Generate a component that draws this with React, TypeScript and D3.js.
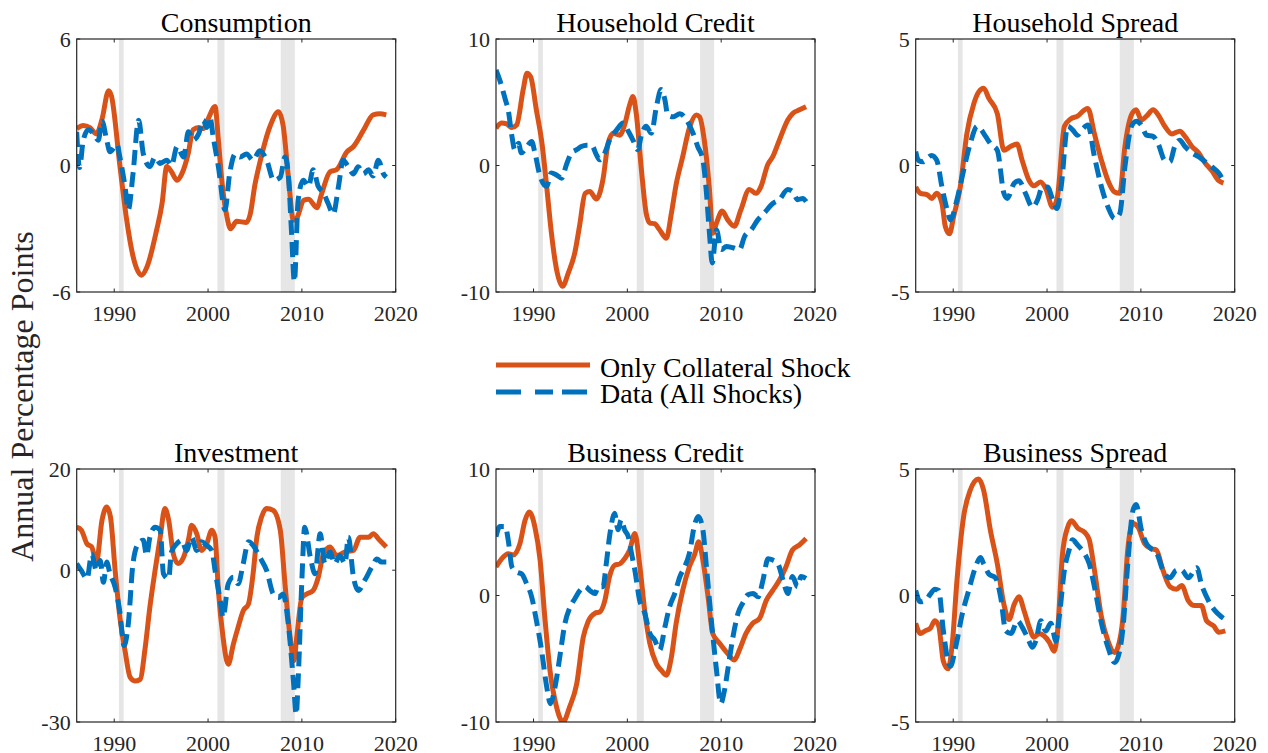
import React from 'react';
import * as d3 from 'd3';

type Pt = [number, number];

const panelTitles = ['Consumption', 'Household Credit', 'Household Spread', 'Investment', 'Business Credit', 'Business Spread'];
const yDomains: [number, number][] = [[-6, 6], [-10, 10], [-5, 5], [-30, 20], [-10, 10], [-5, 5]];
const xDomain: [number, number] = [1986, 2020];
const xTickYears = [1990, 2000, 2010, 2020];
const recessions: [number, number][] = [[1990.5, 1991.0], [2001.0, 2001.75], [2007.75, 2009.25]];
const legendLabels = ['Only Collateral Shock', 'Data (All Shocks)'];
const yAxisLabel = 'Annual Percentage Points';

// [year, value]
const consumptionCollateral: Pt[] = [
  [1986.0, 1.75], [1986.7, 1.9], [1987.4, 1.8], [1988.1, 1.5], [1988.7, 2.2], [1989.4, 3.55], [1989.7, 3.3],
  [1990.6, 0.0], [1991.3, -2.5], [1992.0, -4.3], [1992.9, -5.2], [1993.5, -4.8], [1994.5, -3.1], [1995.1, -1.8],
  [1995.6, -0.05], [1996.1, -0.3], [1996.7, -0.7], [1997.2, -0.4], [1997.9, 0.6], [1998.4, 1.7], [1999.0, 1.8],
  [1999.5, 1.75], [2000.0, 2.2], [2000.75, 2.8], [2001.1, 1.2], [2001.5, -0.85], [2002.0, -2.4], [2002.4, -3.0],
  [2003.05, -2.65], [2004.1, -2.7], [2004.5, -2.3], [2005.0, -0.9], [2005.5, 0.1], [2006.6, 1.85], [2007.5, 2.55],
  [2008.0, 1.9], [2008.55, -0.5], [2009.1, -2.6], [2009.45, -2.5], [2010.2, -1.65], [2010.7, -1.6], [2011.6, -2.0],
  [2012.1, -1.35], [2013.0, -0.3], [2013.7, -0.2], [2014.8, 0.65], [2015.5, 0.9], [2016.6, 1.7], [2017.6, 2.4],
  [2018.3, 2.45], [2019.0, 2.4],
];
const consumptionData: Pt[] = [
  [1986.0, 1.6], [1986.3, -0.1], [1986.7, 1.2], [1987.25, 1.7], [1987.8, 1.5], [1988.3, 1.2], [1988.7, 2.1],
  [1989.2, 1.2], [1989.55, 0.65], [1990.3, 1.0], [1990.6, 0.4], [1991.15, -1.0], [1991.5, -2.1], [1992.0, -0.4],
  [1992.6, 2.15], [1993.1, 0.55], [1993.8, -0.05], [1994.35, 0.4], [1994.9, 0.1], [1995.6, 0.25], [1996.1, 0.0],
  [1996.7, 0.9], [1997.4, 0.4], [1997.9, 1.6], [1998.4, 1.2], [1999.0, 1.5], [1999.5, 2.15], [1999.85, 1.8],
  [2000.2, 2.3], [2000.55, 1.35], [2001.1, -0.05], [2001.8, -2.1], [2002.3, -0.4], [2002.9, 0.55], [2003.4, 0.4],
  [2004.1, 0.55], [2004.8, 0.25], [2005.5, 0.7], [2006.25, 0.25], [2007.0, -0.7], [2007.7, -0.55], [2008.2, 0.4],
  [2008.55, -0.4], [2008.9, -3.2], [2009.2, -5.5], [2009.6, -1.65], [2010.15, -0.7], [2010.7, -1.0], [2011.2, -0.2],
  [2011.75, -1.0], [2012.3, -1.3], [2012.8, -1.8], [2013.35, -2.3], [2013.9, -1.0], [2014.4, 0.25], [2014.95, -0.06],
  [2015.5, -0.4], [2016.0, -0.06], [2016.55, -0.4], [2017.1, -0.2], [2017.6, -0.5], [2018.15, 0.25], [2018.7, -0.4],
  [2019.0, -0.55],
];

const hhCreditCollateral: Pt[] = [
  [1986.0, 2.95], [1986.6, 3.35], [1987.1, 3.3], [1987.7, 3.0], [1988.2, 3.2], [1988.9, 6.0], [1989.3, 7.3],
  [1989.7, 7.0], [1990.3, 4.4], [1990.9, 1.75], [1991.4, -1.65], [1991.9, -5.3], [1992.45, -8.2], [1993.1, -9.55],
  [1993.7, -8.5], [1994.4, -6.9], [1994.9, -4.8], [1995.5, -2.2], [1996.0, -2.05], [1996.7, -2.65], [1997.4, -1.1],
  [1997.95, 1.75], [1998.5, 2.55], [1999.2, 2.4], [1999.7, 3.2], [2000.25, 4.8], [2000.6, 5.45], [2000.95, 4.1],
  [2001.5, -0.35], [2002.0, -3.75], [2002.4, -4.55], [2002.9, -4.6], [2003.45, -5.1], [2004.15, -5.75], [2004.7, -3.75],
  [2005.2, -1.5], [2005.9, 0.7], [2006.6, 2.95], [2007.35, 4.0], [2007.7, 3.85], [2008.2, 2.0], [2008.75, -1.9],
  [2009.1, -5.35], [2009.5, -4.55], [2010.1, -3.6], [2010.7, -4.3], [2011.4, -4.8], [2012.1, -3.5], [2013.0, -1.9],
  [2013.7, -2.2], [2014.25, -1.65], [2014.95, 0.05], [2015.5, 0.7], [2016.2, 2.0], [2017.1, 3.6], [2017.6, 4.1],
  [2018.35, 4.4], [2019.05, 4.65],
];
const hhCreditData: Pt[] = [
  [1986.0, 7.55], [1986.4, 6.75], [1987.0, 5.2], [1987.3, 4.4], [1987.7, 2.3], [1988.0, 1.25], [1988.4, 1.75],
  [1988.7, 1.0], [1989.3, 1.5], [1989.8, 1.9], [1990.15, 1.0], [1990.7, -0.85], [1991.4, -1.65], [1991.9, -0.6],
  [1992.45, -0.75], [1993.0, -1.0], [1993.5, 0.05], [1994.05, 1.0], [1994.6, 1.25], [1995.1, 1.5], [1995.65, 1.6],
  [1996.2, 1.6], [1996.7, 0.85], [1997.05, 0.45], [1997.6, 1.0], [1998.1, 2.0], [1998.85, 2.8], [1999.55, 3.35],
  [2000.1, 2.7], [2000.6, 2.0], [2001.1, 1.25], [2001.5, 2.4], [2002.0, 3.1], [2002.55, 2.55], [2003.1, 4.65],
  [2003.6, 6.0], [2004.0, 5.2], [2004.3, 4.0], [2004.9, 3.85], [2005.6, 4.1], [2006.3, 3.6], [2007.0, 2.55],
  [2007.5, 1.5], [2008.05, 0.45], [2008.4, -1.9], [2008.75, -5.35], [2009.05, -7.7], [2009.5, -5.1], [2010.0, -6.65],
  [2010.55, -6.4], [2011.25, -6.5], [2011.95, -6.65], [2012.5, -5.6], [2013.2, -5.1], [2013.9, -4.3], [2014.6, -3.75],
  [2015.5, -3.0], [2016.2, -2.7], [2017.1, -1.9], [2017.6, -2.05], [2018.15, -2.7], [2018.7, -2.6], [2019.05, -2.85],
];

const hhSpreadCollateral: Pt[] = [
  [1986.0, -0.85], [1986.5, -1.1], [1987.2, -1.15], [1987.7, -1.3], [1988.25, -1.1], [1988.8, -1.5], [1989.15, -2.4],
  [1989.6, -2.7], [1990.05, -2.0], [1990.75, -0.85], [1991.45, 1.25], [1992.2, 2.45], [1992.7, 2.9], [1993.25, 3.05],
  [1993.8, 2.65], [1994.7, 2.05], [1995.4, 0.6], [1996.1, 0.75], [1996.8, 0.85], [1997.35, 0.2], [1998.1, -0.6],
  [1998.6, -0.8], [1999.3, -0.65], [1999.85, -0.9], [2000.6, -1.65], [2001.1, -1.25], [2001.85, 1.55], [2002.55, 1.85],
  [2003.25, 1.95], [2004.0, 2.2], [2004.35, 2.25], [2005.05, 1.25], [2005.8, 0.2], [2006.5, -0.6], [2007.2, -1.05],
  [2007.75, -1.1], [2008.3, 0.75], [2009.0, 2.0], [2009.5, 2.2], [2010.05, 1.8], [2010.6, 1.95], [2011.3, 2.2],
  [2011.85, 2.0], [2012.55, 1.55], [2013.3, 1.25], [2014.15, 1.35], [2014.7, 1.15], [2015.45, 0.75], [2016.15, 0.5],
  [2016.85, 0.1], [2017.55, -0.2], [2018.3, -0.6], [2018.8, -0.7],
];
const hhSpreadData: Pt[] = [
  [1986.0, 0.55], [1986.3, 0.2], [1986.8, 0.15], [1987.25, 0.3], [1987.7, 0.4], [1988.25, 0.2], [1988.8, -0.85],
  [1989.35, -1.75], [1989.7, -2.15], [1990.4, -1.35], [1991.1, -0.2], [1991.8, 0.85], [1992.55, 1.55], [1992.9, 1.45],
  [1993.45, 1.15], [1994.0, 0.85], [1994.7, 0.6], [1995.4, -1.1], [1995.75, -1.3], [1996.5, -0.7], [1997.0, -0.6],
  [1997.7, -1.1], [1998.45, -1.65], [1999.0, -1.35], [1999.5, -0.85], [2000.05, -0.85], [2000.6, -1.35], [2001.05, -1.7],
  [2001.5, -0.85], [2002.2, 1.55], [2002.75, 1.4], [2003.25, 1.2], [2003.8, 1.45], [2004.35, 1.6], [2005.05, 0.35],
  [2005.8, -0.85], [2006.5, -1.65], [2007.2, -2.1], [2007.75, -1.9], [2008.3, -0.05], [2009.0, 1.55], [2009.5, 1.75],
  [2010.05, 1.6], [2010.6, 1.2], [2011.3, 1.15], [2011.85, 0.85], [2012.55, 0.2], [2013.1, 0.15], [2013.6, 0.75],
  [2014.15, 1.0], [2014.7, 0.75], [2015.45, 0.5], [2016.15, 0.35], [2016.85, 0.15], [2017.55, -0.05], [2018.3, -0.3],
  [2018.8, -0.6],
];

const investmentCollateral: Pt[] = [
  [1986.0, 8.5], [1986.5, 7.9], [1987.1, 5.2], [1987.6, 4.6], [1988.1, 1.6], [1988.7, 9.9], [1989.2, 12.5],
  [1989.6, 10.5], [1990.1, -0.1], [1990.6, -9.3], [1991.15, -15.9], [1991.7, -21.2], [1992.2, -21.9], [1992.75, -21.6],
  [1993.3, -15.3], [1993.8, -7.3], [1994.35, -0.1], [1994.9, 6.5], [1995.4, 12.2], [1995.8, 9.9], [1996.3, 3.2],
  [1996.8, 1.3], [1997.4, 2.6], [1997.9, 5.9], [1998.25, 8.9], [1998.8, 7.2], [1999.3, 3.9], [1999.85, 5.2],
  [2000.4, 7.9], [2000.75, 6.5], [2001.1, -4.0], [2001.6, -13.3], [2002.15, -18.6], [2002.7, -14.6], [2003.2, -11.3],
  [2003.75, -8.0], [2004.3, -6.7], [2004.8, -0.7], [2005.2, 6.5], [2005.7, 10.5], [2006.25, 12.2], [2006.95, 11.8],
  [2007.7, 7.9], [2008.2, -2.7], [2008.75, -13.3], [2009.15, -17.9], [2009.45, -13.3], [2010.0, -5.4], [2010.5, -4.7],
  [2011.2, -4.0], [2011.75, -1.4], [2012.3, 3.2], [2013.0, 4.6], [2013.7, 2.9], [2014.6, 3.6], [2015.5, 3.9],
  [2016.2, 6.5], [2017.1, 6.5], [2017.6, 7.2], [2018.3, 5.9], [2019.0, 4.6],
];
const investmentData: Pt[] = [
  [1986.0, 1.3], [1986.5, -0.1], [1987.1, -1.7], [1987.6, 3.2], [1988.1, -0.1], [1988.5, 1.9], [1988.85, -2.4],
  [1989.2, 1.6], [1989.55, -0.7], [1990.1, -3.4], [1990.6, -8.3], [1991.05, -14.9], [1991.5, -10.6], [1992.0, 1.3],
  [1992.55, 5.2], [1993.1, 5.9], [1993.45, 2.9], [1993.8, 6.5], [1994.35, 8.5], [1994.9, 7.9], [1995.25, -0.7],
  [1995.8, -1.7], [1996.1, 3.6], [1996.65, 5.2], [1997.2, 5.9], [1997.7, 3.9], [1998.25, 6.5], [1998.8, 3.9],
  [1999.3, 5.6], [1999.85, 4.9], [2000.4, 3.9], [2000.75, -0.1], [2001.3, -6.0], [2001.6, -9.3], [2002.15, -2.7],
  [2002.7, -1.4], [2003.2, -2.7], [2003.75, 1.3], [2004.3, 5.6], [2004.8, 4.9], [2005.5, 2.6], [2006.25, -0.1],
  [2006.95, -4.7], [2007.5, -5.4], [2008.0, -4.7], [2008.55, -10.6], [2009.1, -21.9], [2009.4, -28.5], [2009.6, -21.9],
  [2010.0, -2.0], [2010.3, 8.5], [2010.9, 2.6], [2011.4, -0.7], [2011.95, 7.2], [2012.45, 1.3], [2013.0, 3.6],
  [2013.5, 1.3], [2014.05, 2.9], [2014.6, 1.3], [2014.95, 6.5], [2015.5, -1.4], [2016.0, -4.0], [2016.7, -2.0],
  [2017.45, 0.6], [2018.0, 2.2], [2018.5, 1.6], [2019.0, 1.6],
];

const bizCreditCollateral: Pt[] = [
  [1986.0, 2.25], [1986.6, 2.9], [1987.3, 3.3], [1987.85, 3.2], [1988.55, 4.1], [1989.1, 5.95], [1989.55, 6.6],
  [1990.15, 5.4], [1990.7, 2.8], [1991.2, -1.7], [1991.75, -5.9], [1992.45, -8.8], [1993.15, -10.0], [1993.85, -8.8],
  [1994.6, -7.0], [1995.3, -3.3], [1995.8, -2.1], [1996.55, -1.4], [1997.05, -1.3], [1997.6, -0.4], [1998.1, 1.5],
  [1998.65, 2.4], [1999.2, 2.5], [1999.7, 2.9], [2000.25, 3.6], [2000.8, 4.9], [2001.3, 2.5], [2001.85, -1.2],
  [2002.4, -3.8], [2003.1, -5.4], [2003.6, -5.9], [2004.15, -6.3], [2004.7, -4.85], [2005.2, -2.2], [2005.9, 0.4],
  [2006.6, 2.25], [2007.2, 3.3], [2007.6, 4.25], [2008.05, 2.8], [2008.6, -0.1], [2009.1, -3.0], [2009.85, -3.8],
  [2010.7, -4.6], [2011.4, -5.1], [2011.95, -4.3], [2012.65, -3.0], [2013.35, -2.2], [2014.1, -1.8], [2014.8, -0.4],
  [2015.5, 0.4], [2016.2, 1.2], [2016.9, 2.25], [2017.6, 3.6], [2018.35, 4.0], [2019.05, 4.5],
];
const bizCreditData: Pt[] = [
  [1986.0, 4.65], [1986.4, 5.45], [1987.0, 5.45], [1987.3, 4.4], [1987.7, 2.25], [1988.2, 1.85], [1988.75, 1.7],
  [1989.25, 0.95], [1989.8, -0.1], [1990.3, -1.95], [1990.85, -4.3], [1991.4, -7.2], [1991.8, -8.55], [1992.3, -7.2],
  [1992.8, -4.85], [1993.35, -2.2], [1993.9, -0.9], [1994.4, -0.25], [1994.95, 0.4], [1995.5, 0.7], [1996.0, 0.4],
  [1996.55, 0.15], [1996.9, 0.7], [1997.4, 0.7], [1997.75, 2.5], [1998.1, 4.65], [1998.65, 6.5], [1999.0, 5.2],
  [1999.35, 6.0], [1999.7, 5.2], [2000.1, 4.65], [2000.45, 3.3], [2000.8, 2.0], [2001.3, -0.35], [2001.85, -1.4],
  [2002.4, -3.0], [2002.9, -3.5], [2003.45, -4.3], [2004.0, -2.5], [2004.5, -0.9], [2005.05, 0.15], [2005.6, 1.5],
  [2006.1, 2.25], [2006.6, 3.3], [2007.2, 5.7], [2007.55, 6.25], [2008.05, 5.2], [2008.4, 2.5], [2008.95, -1.95],
  [2009.5, -5.9], [2009.95, -8.55], [2010.35, -7.5], [2010.7, -5.9], [2011.25, -3.3], [2011.8, -1.4], [2012.3, -0.6],
  [2012.85, 0.05], [2013.4, 0.15], [2013.95, -0.1], [2014.45, 1.2], [2015.0, 2.9], [2015.5, 2.8], [2016.05, 2.5],
  [2016.6, 1.2], [2017.1, 0.15], [2017.6, 1.5], [2018.15, 0.7], [2018.5, 1.5], [2019.05, 1.35],
];

const bizSpreadCollateral: Pt[] = [
  [1986.0, -1.1], [1986.5, -1.5], [1987.0, -1.4], [1987.55, -1.3], [1988.05, -1.0], [1988.45, -1.2], [1988.95, -2.6],
  [1989.45, -2.9], [1989.9, -1.9], [1990.4, 0.6], [1991.1, 3.1], [1991.8, 4.15], [1992.7, 4.6], [1993.25, 4.15],
  [1993.95, 2.6], [1994.7, 1.25], [1995.4, -0.35], [1995.95, -0.95], [1996.5, -0.35], [1997.0, -0.05], [1997.55, -0.6],
  [1998.1, -1.25], [1998.6, -1.65], [1999.15, -1.5], [1999.7, -1.6], [2000.25, -1.85], [2000.75, -2.2], [2001.1, -1.5],
  [2001.65, 1.65], [2002.2, 2.7], [2002.6, 2.95], [2003.3, 2.65], [2004.0, 2.5], [2004.5, 2.2], [2005.05, 1.0],
  [2005.8, -0.85], [2006.5, -1.8], [2007.2, -2.25], [2007.55, -2.05], [2008.1, -0.85], [2008.6, 1.8], [2009.15, 2.85],
  [2009.7, 2.7], [2010.4, 2.05], [2011.1, 1.85], [2011.65, 1.8], [2012.35, 1.0], [2013.1, 0.35], [2013.8, 0.25],
  [2014.35, 0.4], [2015.05, -0.2], [2015.75, -0.4], [2016.45, -0.4], [2017.0, -1.0], [2017.75, -1.2], [2018.3, -1.45],
  [2019.0, -1.4],
];
const bizSpreadData: Pt[] = [
  [1986.0, 0.2], [1986.5, -0.25], [1987.0, -0.2], [1987.55, 0.05], [1988.05, 0.25], [1988.45, 0.2], [1988.95, -1.4],
  [1989.45, -2.6], [1989.7, -2.8], [1990.25, -2.05], [1990.95, -0.75], [1991.65, 0.2], [1992.35, 1.1], [1992.9, 1.5],
  [1993.25, 1.25], [1993.8, 0.85], [1994.5, 0.7], [1995.05, -0.05], [1995.6, -1.4], [1996.15, -1.5], [1996.85, -1.0],
  [1997.35, -1.25], [1997.9, -1.65], [1998.45, -2.05], [1998.8, -1.8], [1999.35, -1.0], [1999.85, -1.4], [2000.4, -1.1],
  [2000.95, -1.8], [2001.3, -0.85], [2001.85, 1.0], [2002.35, 1.8], [2002.7, 2.2], [2003.25, 2.0], [2004.0, 1.65],
  [2004.5, 1.25], [2005.05, 0.35], [2005.8, -1.1], [2006.5, -2.05], [2007.2, -2.65], [2007.55, -2.45], [2008.1, -1.25],
  [2008.6, 1.25], [2009.15, 3.35], [2009.5, 3.6], [2010.05, 2.6], [2010.6, 2.05], [2011.1, 1.85], [2011.65, 1.7],
  [2012.35, 1.0], [2013.1, 0.7], [2013.8, 1.0], [2014.35, 1.0], [2015.05, 0.7], [2015.95, 1.1], [2016.45, 0.45],
  [2017.2, -0.2], [2017.9, -0.6], [2018.45, -0.8], [2019.0, -0.95],
];

const collateralSeries = [consumptionCollateral, hhCreditCollateral, hhSpreadCollateral, investmentCollateral, bizCreditCollateral, bizSpreadCollateral];
const dataSeries = [consumptionData, hhCreditData, hhSpreadData, investmentData, bizCreditData, bizSpreadData];

const W = 1268;
const H = 753;
const colLeft = [76.7, 496, 915.7];
const rowTop = [39, 469];
const plotW = 319;
const plotH = 253;
const ORANGE = '#D95319';
const BLUE = '#0072BD';
const AXIS = '#262626';
const FONT = '"Liberation Serif", "Times New Roman", serif';
const LW = 5;
const DASH = '15,7';

function Panel({ i }: { i: number }) {
  const col = i % 3;
  const row = Math.floor(i / 3);
  const x0 = colLeft[col];
  const y0 = rowTop[row];
  const x = d3.scaleLinear().domain(xDomain).range([x0, x0 + plotW]);
  const y = d3.scaleLinear().domain(yDomains[i]).range([y0 + plotH, y0]);
  const line = d3.line<Pt>().x(d => x(d[0])).y(d => y(d[1])).curve(d3.curveMonotoneX);
  const yTicks = [yDomains[i][0], 0, yDomains[i][1]];
  const tl = 3.5;
  const clipId = `clip-${i}`;
  return (
    <g>
      <defs>
        <clipPath id={clipId}>
          <rect x={x0} y={y0} width={plotW} height={plotH} />
        </clipPath>
      </defs>
      <rect x={x0} y={y0} width={plotW} height={plotH} fill="#fff" />
      {recessions.map(([a, b], k) => (
        <rect key={k} x={x(a)} y={y0} width={x(b) - x(a)} height={plotH} fill="#e6e6e6" />
      ))}
      <g clipPath={`url(#${clipId})`}>
        <path d={line(collateralSeries[i]) || ''} fill="none" stroke={ORANGE} strokeWidth={LW} strokeLinejoin="round" />
        <path d={line(dataSeries[i]) || ''} fill="none" stroke={BLUE} strokeWidth={LW} strokeDasharray={DASH} strokeLinejoin="round" />
      </g>
      <rect x={x0} y={y0} width={plotW} height={plotH} fill="none" stroke={AXIS} strokeWidth={1.2} />
      {xTickYears.map(t => (
        <g key={t}>
          <line x1={x(t)} x2={x(t)} y1={y0 + plotH} y2={y0 + plotH - tl} stroke={AXIS} strokeWidth={1} />
          <line x1={x(t)} x2={x(t)} y1={y0} y2={y0 + tl} stroke={AXIS} strokeWidth={1} />
          <text x={x(t)} y={y0 + plotH + 28.5} textAnchor="middle" fontFamily={FONT} fontSize={22} fill={AXIS}>{t}</text>
        </g>
      ))}
      {yTicks.map(t => (
        <g key={t}>
          <line x1={x0} x2={x0 + tl} y1={y(t)} y2={y(t)} stroke={AXIS} strokeWidth={1} />
          <line x1={x0 + plotW} x2={x0 + plotW - tl} y1={y(t)} y2={y(t)} stroke={AXIS} strokeWidth={1} />
          <text x={x0 - 6} y={y(t)} dy="0.35em" textAnchor="end" fontFamily={FONT} fontSize={22} fill={AXIS}>{t}</text>
        </g>
      ))}
      <text x={x0 + plotW / 2} y={y0 - 7} textAnchor="middle" fontFamily={FONT} fontSize={28} fill="#000">{panelTitles[i]}</text>
    </g>
  );
}

export default function App() {
  return (
    <svg width={W} height={H} style={{ position: 'absolute', left: 0, top: 0, background: '#fff' }}>
      <rect width={W} height={H} fill="#fff" />
      {panelTitles.map((_, i) => <Panel key={i} i={i} />)}
      <text transform="translate(33,396.5) rotate(-90)" textAnchor="middle" fontFamily={FONT} fontSize={32} fill={AXIS}>{yAxisLabel}</text>
      <g>
        <line x1={496} x2={590} y1={365} y2={365} stroke={ORANGE} strokeWidth={5} />
        <line x1={496} x2={590} y1={392} y2={392} stroke={BLUE} strokeWidth={5} strokeDasharray="25,14,18,9" />
        <text x={600} y={376.5} fontFamily={FONT} fontSize={28} fill="#000">{legendLabels[0]}</text>
        <text x={600} y={403} fontFamily={FONT} fontSize={28} fill="#000">{legendLabels[1]}</text>
      </g>
    </svg>
  );
}
